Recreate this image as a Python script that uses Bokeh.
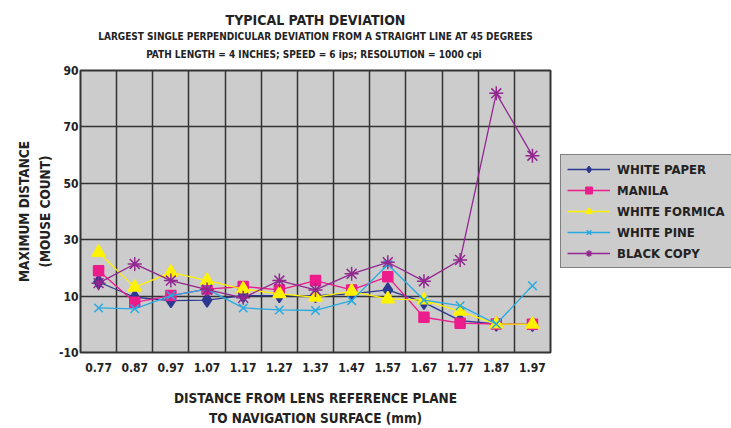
from bokeh.plotting import figure
from bokeh.models import (FixedTicker, Range1d, Legend, LegendItem, Title)
from bokeh.embed import file_html
from bokeh.resources import INLINE

categories = ["0.77", "0.87", "0.97", "1.07", "1.17", "1.27", "1.37",
              "1.47", "1.57", "1.67", "1.77", "1.87", "1.97"]
white_paper = [15, 9.6, 8.4, 8.6, 10.2, 10.2, 10.2, 10.8, 12.2, 7.8, 1.3, 0.1, 0]
manila = [19, 7.8, 10.2, 12.5, 13.4, 12.2, 15.5, 12.2, 16.9, 2.5, 0.4, 0.1, 0]
white_formica = [25.5, 13.1, 18.4, 15.5, 12.5, 10.8, 9.6, 11.7, 9.0, 8.6, 4.6, 0.1, 0]
white_pine = [5.8, 5.5, 10.2, 12.5, 5.8, 5.1, 4.9, 8.4, 21.2, 8.6, 6.6, 0.1, 13.7]
black_copy = [14.6, 21.4, 15.5, 12.3, 9.4, 15.5, 12.2, 17.9, 22.0, 15.3, 22.8, 81.9, 59.8]
y_ticks = [-10, 10, 30, 50, 70, 90]

FONT = "DejaVu Sans Condensed"
idx = list(range(len(categories)))

p = figure(output_backend="svg", toolbar_location=None,
           x_range=Range1d(-0.5, len(categories) - 0.5), y_range=Range1d(-10, 90),
           frame_width=470, frame_height=282,
           min_border_left=80, min_border_right=170, min_border_top=70,
           min_border_bottom=66)

p.background_fill_color = "#cccccc"
p.border_fill_color = "white"
p.outline_line_color = "#333333"
p.outline_line_width = 2

# axes
p.xaxis.ticker = FixedTicker(ticks=idx)
p.xaxis.major_label_overrides = {i: c for i, c in enumerate(categories)}
p.yaxis.ticker = FixedTicker(ticks=y_ticks)
p.yaxis.major_label_overrides = {t: str(t) for t in y_ticks}
for ax in (p.xaxis, p.yaxis):
    ax.axis_line_color = None
    ax.major_tick_line_color = None
    ax.minor_tick_line_color = None
    ax.major_tick_out = 0
    ax.major_tick_in = 0
    ax.minor_tick_out = 0
    ax.major_label_text_font = FONT
    ax.major_label_text_font_style = "bold"
    ax.major_label_text_font_size = "12px"
    ax.major_label_text_color = "#222222"
    ax.axis_label_text_font = FONT
    ax.axis_label_text_font_style = "bold"
    ax.axis_label_text_font_size = "13.5px"
    ax.axis_label_text_color = "#222222"
    ax.axis_label_text_line_height = 1.3
p.xaxis.major_label_standoff = 10
p.yaxis.major_label_standoff = 2
p.xaxis.axis_label = "DISTANCE FROM LENS REFERENCE PLANE\nTO NAVIGATION SURFACE (mm)"
p.yaxis.axis_label = "MAXIMUM DISTANCE\n(MOUSE COUNT)"
p.xaxis.axis_label_standoff = 15
p.yaxis.axis_label_standoff = 3

# grid
p.xgrid.ticker = FixedTicker(ticks=[i + 0.5 for i in idx[:-1]])
p.ygrid.ticker = FixedTicker(ticks=y_ticks)
for g in (p.xgrid, p.ygrid):
    g.grid_line_color = "#333333"
    g.grid_line_width = 1.5

series = [
    ("WHITE PAPER", white_paper, "#2b3990", "#2b3990", "diamond", 14),
    ("MANILA", manila, "#ec1c8c", "#ec1c8c", "square", 10),
    ("WHITE FORMICA", white_formica, "#fff200", "#fff200", "triangle", 13),
    ("WHITE PINE", white_pine, "#27aae1", "#27aae1", "x", 12),
    ("BLACK COPY", black_copy, "#92278f", "#92278f", "asterisk", 14),
]
items = []
for name, vals, lc, mc, mk, sz in series:
    r1 = p.line(idx, vals, line_color=lc, line_width=1.3)
    r2 = p.scatter(idx, vals, marker=mk, size=sz, fill_color=mc, line_color=mc,
                   line_width=1.5)
    items.append(LegendItem(label=name, renderers=[r1, r2]))

legend = Legend(items=items, location="center_left")
legend.background_fill_color = "#cccccc"
legend.background_fill_alpha = 1
legend.border_line_color = "#333333"
legend.border_line_width = 1.5
legend.label_text_font = FONT
legend.label_text_font_style = "bold"
legend.label_text_font_size = "13px"
legend.label_text_color = "#222222"
legend.glyph_width = 43
legend.glyph_height = 16
legend.label_standoff = 7
legend.spacing = 5
legend.padding = 6
legend.margin = 10
p.add_layout(legend, "right")

# titles (first added sits closest to the plot)
p.add_layout(Title(text="PATH  LENGTH = 4 INCHES; SPEED = 6 ips; RESOLUTION = 1000 cpi",
                   align="center", text_font=FONT, text_font_style="bold",
                   text_font_size="10px", text_color="#222222", standoff=22), "above")
p.add_layout(Title(text="LARGEST SINGLE PERPENDICULAR DEVIATION FROM A STRAIGHT LINE AT 45 DEGREES",
                   align="center", text_font=FONT, text_font_style="bold",
                   text_font_size="10px", text_color="#222222", standoff=-12), "above")
p.add_layout(Title(text="TYPICAL PATH DEVIATION",
                   align="center", text_font=FONT, text_font_style="bold",
                   text_font_size="14px", text_color="#222222", standoff=14), "above")

open("out.html", "w").write(file_html(p, INLINE))
